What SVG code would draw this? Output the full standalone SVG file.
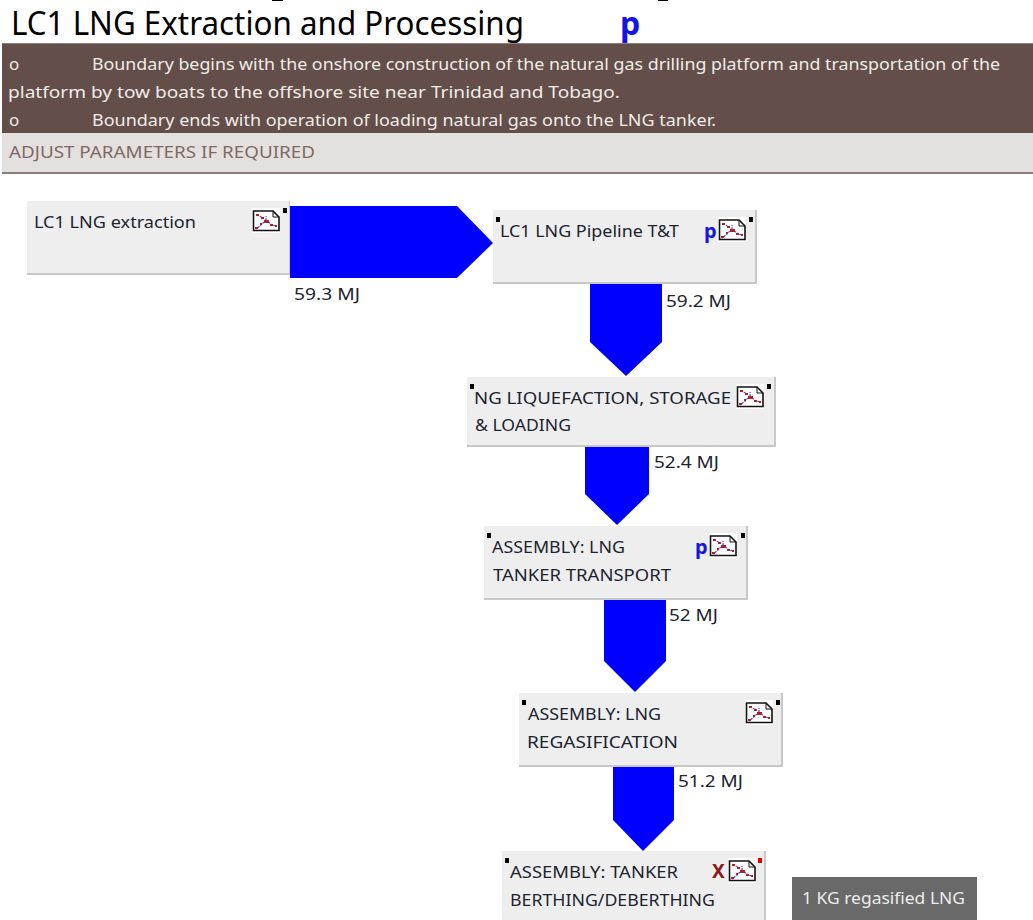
<svg xmlns="http://www.w3.org/2000/svg" width="1033" height="920" viewBox="0 0 1033 920">
<style>
text{font-family:"Noto Sans","Liberation Sans",sans-serif;font-size:17px;fill:#1c2430}
.t{font-size:33px;fill:#000}
.h{fill:#f0ece8}
.a{fill:#7d6a66}
.p{font-weight:700;fill:#1414e6;font-size:20px}
.n{fill:#eeeeee}
.s{fill:#c8c8c8}
.d{fill:#000}
.f{fill:#0000ff}
</style>
<defs>
<g id="icon">
<rect width="28" height="25" fill="#fff"/>
<path d="M1.5 3H21L27 9V22.5H1.5Z" fill="#fff" stroke="#111" stroke-width="1.6"/>
<path d="M21 3V9H27" fill="none" stroke="#111" stroke-width="1"/>
<path d="M5 7L12 10M14 12L9 17L4 21M14 12L20 17L25 18M14 12L14 8" fill="none" stroke="#4a4ad0" stroke-width="1.2" stroke-dasharray="2 1"/>
<path d="M4 6h3v2h-3zM9 9h3v2h-3zM12 12h5v3h-5zM18 16h3v2h-3zM23 17h2v2h-2zM3 19h3v2h-3zM8 15h2v2h-2z" fill="#b02020"/>
</g>
</defs>
<rect x="272" y="0" width="11" height="1" fill="#000"/>
<rect x="658" y="0" width="10" height="1" fill="#000"/>
<text class="t" x="11" y="35" textLength="513" lengthAdjust="spacingAndGlyphs">LC1 LNG Extraction and Processing</text>
<text class="t p" x="620" y="35" style="font-size:32px">p</text>
<g id="header">
<rect x="2" y="43" width="1031" height="90" fill="#634e4a"/>
<rect x="2" y="43" width="1031" height="1" fill="#8f7d79"/>
<rect x="2" y="133" width="1031" height="40" fill="#e4e0dd"/>
<rect x="2" y="172" width="1031" height="2" fill="#907b76"/>
<text class="h" x="9" y="70">o</text>
<text class="h" x="92" y="70" textLength="908" lengthAdjust="spacingAndGlyphs">Boundary begins with the onshore construction of the natural gas drilling platform and transportation of the</text>
<text class="h" x="8" y="98" textLength="612" lengthAdjust="spacingAndGlyphs">platform by tow boats to the offshore site near Trinidad and Tobago.</text>
<text class="h" x="9" y="126">o</text>
<text class="h" x="92" y="126" textLength="624" lengthAdjust="spacingAndGlyphs">Boundary ends with operation of loading natural gas onto the LNG tanker.</text>
<text class="a" x="9" y="158" textLength="306" lengthAdjust="spacingAndGlyphs">ADJUST PARAMETERS IF REQUIRED</text>
</g>
<g id="connectors">
<path class="f" d="M290 206H457L493 243L457 278H290Z"/>
<path class="f" d="M590 284H662V342L626 376L590 342Z"/>
<path class="f" d="M585 447H649V494L617 525L585 494Z"/>
<path class="f" d="M604 600H666V661L635 692L604 661Z"/>
<path class="f" d="M613 767H674V820L643 851L613 820Z"/>
<text x="294" y="300" textLength="66" lengthAdjust="spacingAndGlyphs">59.3 MJ</text>
<text x="666" y="307" textLength="65" lengthAdjust="spacingAndGlyphs">59.2 MJ</text>
<text x="654" y="468" textLength="65" lengthAdjust="spacingAndGlyphs">52.4 MJ</text>
<text x="669" y="621" textLength="49" lengthAdjust="spacingAndGlyphs">52 MJ</text>
<text x="678" y="787" textLength="65" lengthAdjust="spacingAndGlyphs">51.2 MJ</text>
</g>
<g id="node1">
<rect class="s" x="27" y="201" width="263" height="74"/>
<rect class="n" x="27" y="201" width="262" height="72"/>
<use href="#icon" x="252" y="208"/>
<rect class="d" x="283" y="208" width="4" height="5"/>
<text x="34" y="228" textLength="162" lengthAdjust="spacingAndGlyphs">LC1 LNG extraction</text>
</g>
<g id="node2">
<rect class="s" x="493" y="210" width="264" height="74"/>
<rect class="n" x="493" y="210" width="262" height="72"/>
<use href="#icon" x="718" y="217"/>
<rect class="d" x="749" y="217" width="4" height="5"/>
<rect class="d" x="496" y="217" width="4" height="5"/>
<text x="500" y="237" textLength="179" lengthAdjust="spacingAndGlyphs">LC1 LNG Pipeline T&amp;T</text>
<text class="p" x="704" y="238">p</text>
</g>
<g id="node3">
<rect class="s" x="467" y="377" width="309" height="70"/>
<rect class="n" x="467" y="377" width="307" height="68"/>
<use href="#icon" x="736" y="384"/>
<rect class="d" x="767" y="384" width="4" height="5"/>
<rect class="d" x="470" y="384" width="4" height="5"/>
<text x="474" y="404" textLength="257" lengthAdjust="spacingAndGlyphs">NG LIQUEFACTION, STORAGE</text>
<text x="475" y="431" textLength="96" lengthAdjust="spacingAndGlyphs">&amp; LOADING</text>
</g>
<g id="node4">
<rect class="s" x="484" y="526" width="264" height="74"/>
<rect class="n" x="484" y="526" width="262" height="72"/>
<use href="#icon" x="709" y="533"/>
<rect class="d" x="741" y="533" width="4" height="5"/>
<rect class="d" x="487" y="533" width="4" height="5"/>
<text x="492" y="553" textLength="133" lengthAdjust="spacingAndGlyphs">ASSEMBLY: LNG</text>
<text x="493" y="581" textLength="178" lengthAdjust="spacingAndGlyphs">TANKER TRANSPORT</text>
<text class="p" x="695" y="554">p</text>
</g>
<g id="node5">
<rect class="s" x="519" y="693" width="264" height="74"/>
<rect class="n" x="519" y="693" width="262" height="72"/>
<use href="#icon" x="745" y="700"/>
<rect class="d" x="776" y="700" width="4" height="5"/>
<rect class="d" x="522" y="700" width="4" height="5"/>
<text x="528" y="720" textLength="133" lengthAdjust="spacingAndGlyphs">ASSEMBLY: LNG</text>
<text x="527" y="748" textLength="151" lengthAdjust="spacingAndGlyphs">REGASIFICATION</text>
</g>
<g id="node6">
<rect class="s" x="502" y="851" width="264" height="69"/>
<rect class="n" x="502" y="851" width="262" height="69"/>
<use href="#icon" x="728" y="858"/>
<rect x="758" y="858" width="4" height="5" fill="#e00000"/>
<rect class="d" x="505" y="858" width="4" height="5"/>
<text x="510" y="878" textLength="168" lengthAdjust="spacingAndGlyphs">ASSEMBLY: TANKER</text>
<text x="510" y="906" textLength="205" lengthAdjust="spacingAndGlyphs">BERTHING/DEBERTHING</text>
<text x="712" y="878" style="font-size:19px;font-weight:700;fill:#8b1a1a">X</text>
</g>
<g id="output">
<rect x="792" y="877" width="185" height="43" fill="#696969"/>
<text x="802" y="904" textLength="163" lengthAdjust="spacingAndGlyphs" style="fill:#ececec">1 KG regasified LNG</text>
</g>
</svg>
